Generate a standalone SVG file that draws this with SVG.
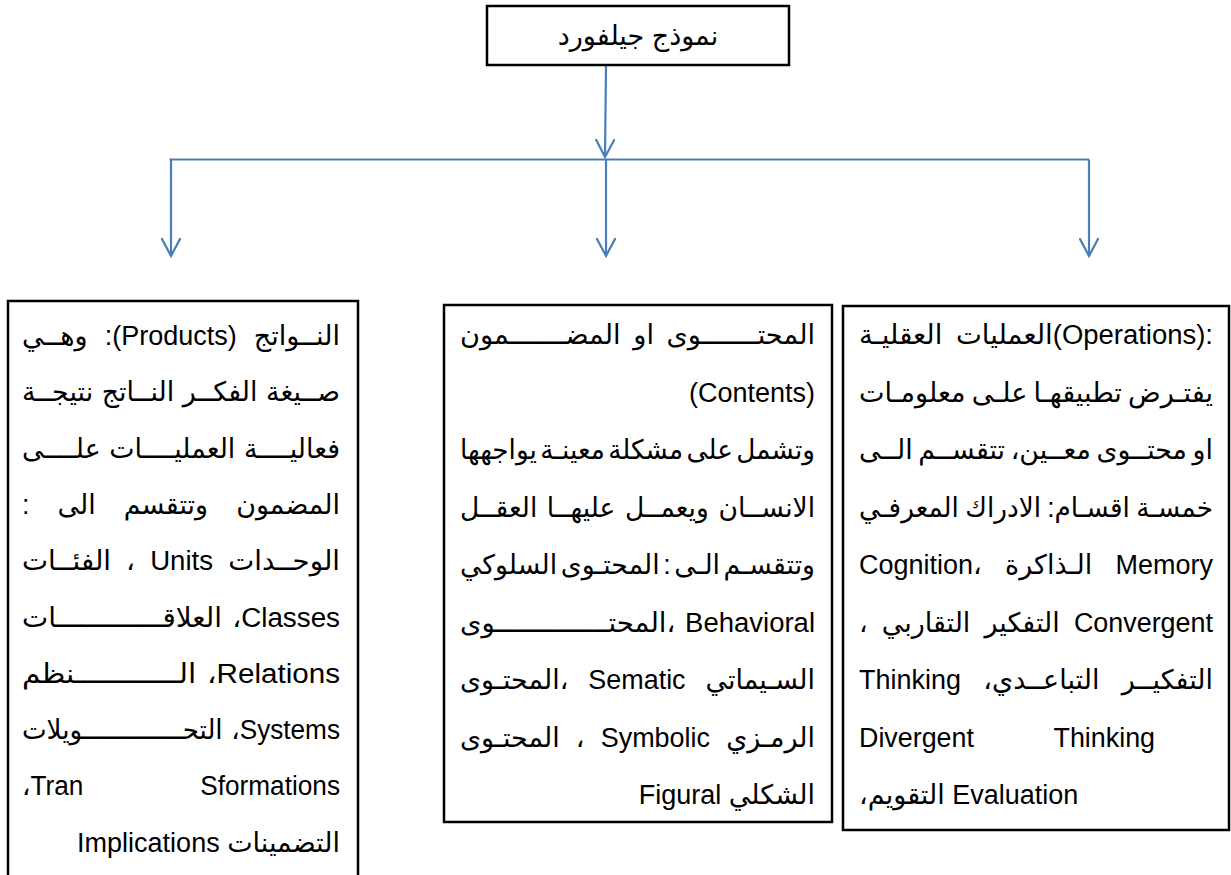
<svg xmlns="http://www.w3.org/2000/svg" width="1231" height="875" viewBox="0 0 1231 875">
<style>
.box{fill:#fff;stroke:#000;stroke-width:2.5}
.t{font-family:"Liberation Sans","DejaVu Sans",Arial,sans-serif;font-size:27px;fill:#000}
.rtl{direction:rtl;text-anchor:start}
.ltr{direction:ltr;text-anchor:start}
.con{fill:none;stroke:#4A7EBB;stroke-width:2.2}
</style>
<defs>
<marker id="ah" viewBox="0 0 20 20" refX="18" refY="10" markerWidth="20" markerHeight="20" markerUnits="userSpaceOnUse" orient="auto">
<path d="M0,0.5 L18,10 L0,19.5" fill="none" stroke="#4A7EBB" stroke-width="2.2"/>
</marker>
</defs>
<rect width="1231" height="875" fill="#fff"/>
<g id="connectors">
<path class="con" d="M606,65 L605,157" marker-end="url(#ah)"/>
<path class="con" d="M169.5,159.5 L1089,159.5"/>
<path class="con" d="M171,159.5 L171,256" marker-end="url(#ah)"/>
<path class="con" d="M606,159.5 L606,256" marker-end="url(#ah)"/>
<path class="con" d="M1089,159.5 L1089,256" marker-end="url(#ah)"/>
</g>
<g id="root">
<rect class="box" x="487" y="6" width="302" height="59"/>
<text class="t" x="638" y="45" text-anchor="middle" font-size="26">نموذج جيلفورد</text>
</g>
<g id="products">
<rect class="box" x="8" y="301" width="350" height="590"/>
<text class="t rtl" x="340" y="345" word-spacing="9.5" textLength="318" lengthAdjust="spacingAndGlyphs">النــواتج (Products): وهــي</text>
<text class="t rtl" x="340" y="401" word-spacing="1.2" textLength="318" lengthAdjust="spacingAndGlyphs">صــيغة الفكــر النــاتج نتيجــة</text>
<text class="t rtl" x="340" y="457.6" word-spacing="1.2" textLength="318" lengthAdjust="spacingAndGlyphs">فعاليــــة العمليــــات علــــى</text>
<text class="t rtl" x="340" y="514" word-spacing="20.7" textLength="318" lengthAdjust="spacingAndGlyphs">المضمون وتتقسم الى :</text>
<text class="t rtl" x="340" y="570" word-spacing="7.3" textLength="318" lengthAdjust="spacingAndGlyphs">الوحــدات Units ، الفئــات</text>
<text class="t rtl" x="340" y="626.5" word-spacing="2.4" textLength="318" lengthAdjust="spacingAndGlyphs">Classes، العلاقـــــــــــــات</text>
<text class="t rtl" x="340" y="683" word-spacing="2.4" textLength="318" lengthAdjust="spacingAndGlyphs">Relations، الــــــــــــنظم</text>
<text class="t rtl" x="340" y="739" word-spacing="1.4" textLength="318" lengthAdjust="spacingAndGlyphs">Systems، التحـــــــــــــويلات</text>
<text class="t rtl" x="340" y="795" word-spacing="113" textLength="318" lengthAdjust="spacingAndGlyphs">Tran Sformations،</text>
<text class="t rtl" x="340" y="851.7">التضمينات Implications</text>
</g>
<g id="contents">
<rect class="box" x="444" y="305" width="388" height="517"/>
<text class="t rtl" x="815" y="344" word-spacing="5" textLength="355" lengthAdjust="spacingAndGlyphs">المحتـــــــوى او المضـــــــمون</text>
<text class="t rtl" x="815" y="401.5">(Contents)</text>
<text class="t rtl" x="815" y="459" word-spacing="-4" textLength="355" lengthAdjust="spacingAndGlyphs">وتشمل على مشكلة معينـة يواجهها</text>
<text class="t rtl" x="815" y="516.5" word-spacing="2.3" textLength="355" lengthAdjust="spacingAndGlyphs">الانســان ويعمــل عليهــا العقــل</text>
<text class="t rtl" x="815" y="574" word-spacing="-3.9" textLength="355" lengthAdjust="spacingAndGlyphs">وتتقسـم الـى : المحتـوى السلوكي</text>
<text class="t rtl" x="815" y="631.5" word-spacing="2" textLength="355" lengthAdjust="spacingAndGlyphs">Behavioral ،المحتــــــــــــــوى</text>
<text class="t rtl" x="815" y="689" word-spacing="12.5" textLength="355" lengthAdjust="spacingAndGlyphs">السـيماتي Sematic ،المحتـوى</text>
<text class="t rtl" x="815" y="746.5" word-spacing="8.7" textLength="355" lengthAdjust="spacingAndGlyphs">الرمـزي Symbolic ، المحتـوى</text>
<text class="t rtl" x="815" y="804">الشكلي Figural</text>
</g>
<g id="operations">
<rect class="box" x="843" y="306" width="386" height="524"/>
<text class="t ltr" x="859" y="344" word-spacing="6" textLength="354" lengthAdjust="spacingAndGlyphs">العمليات العقليـة(Operations):</text>
<text class="t ltr" x="859" y="401.5" word-spacing="-1.3" textLength="354" lengthAdjust="spacingAndGlyphs">يفتـرض تطبيقهـا علـى معلومـات</text>
<text class="t ltr" x="859" y="459" word-spacing="-1.8" textLength="354" lengthAdjust="spacingAndGlyphs">او محتــوى معــين، تتقســم الــى</text>
<text class="t ltr" x="859" y="516.5" word-spacing="-1" textLength="354" lengthAdjust="spacingAndGlyphs">خمسـة اقسـام: الادراك المعرفـي</text>
<text class="t ltr" x="859" y="574" word-spacing="16" textLength="354" lengthAdjust="spacingAndGlyphs">Cognition، الـذاكرة Memory</text>
<text class="t ltr" x="859" y="631.5" word-spacing="6.7" textLength="354" lengthAdjust="spacingAndGlyphs">، التفكير التقاربي Convergent</text>
<text class="t ltr" x="859" y="689" word-spacing="15" textLength="354" lengthAdjust="spacingAndGlyphs">Thinking ،التفكيــر التباعــدي</text>
<text class="t ltr" x="859" y="746.5" word-spacing="73" textLength="296" lengthAdjust="spacingAndGlyphs">Divergent Thinking</text>
<text class="t ltr" x="859" y="804">،التقويم Evaluation</text>
</g>
</svg>
